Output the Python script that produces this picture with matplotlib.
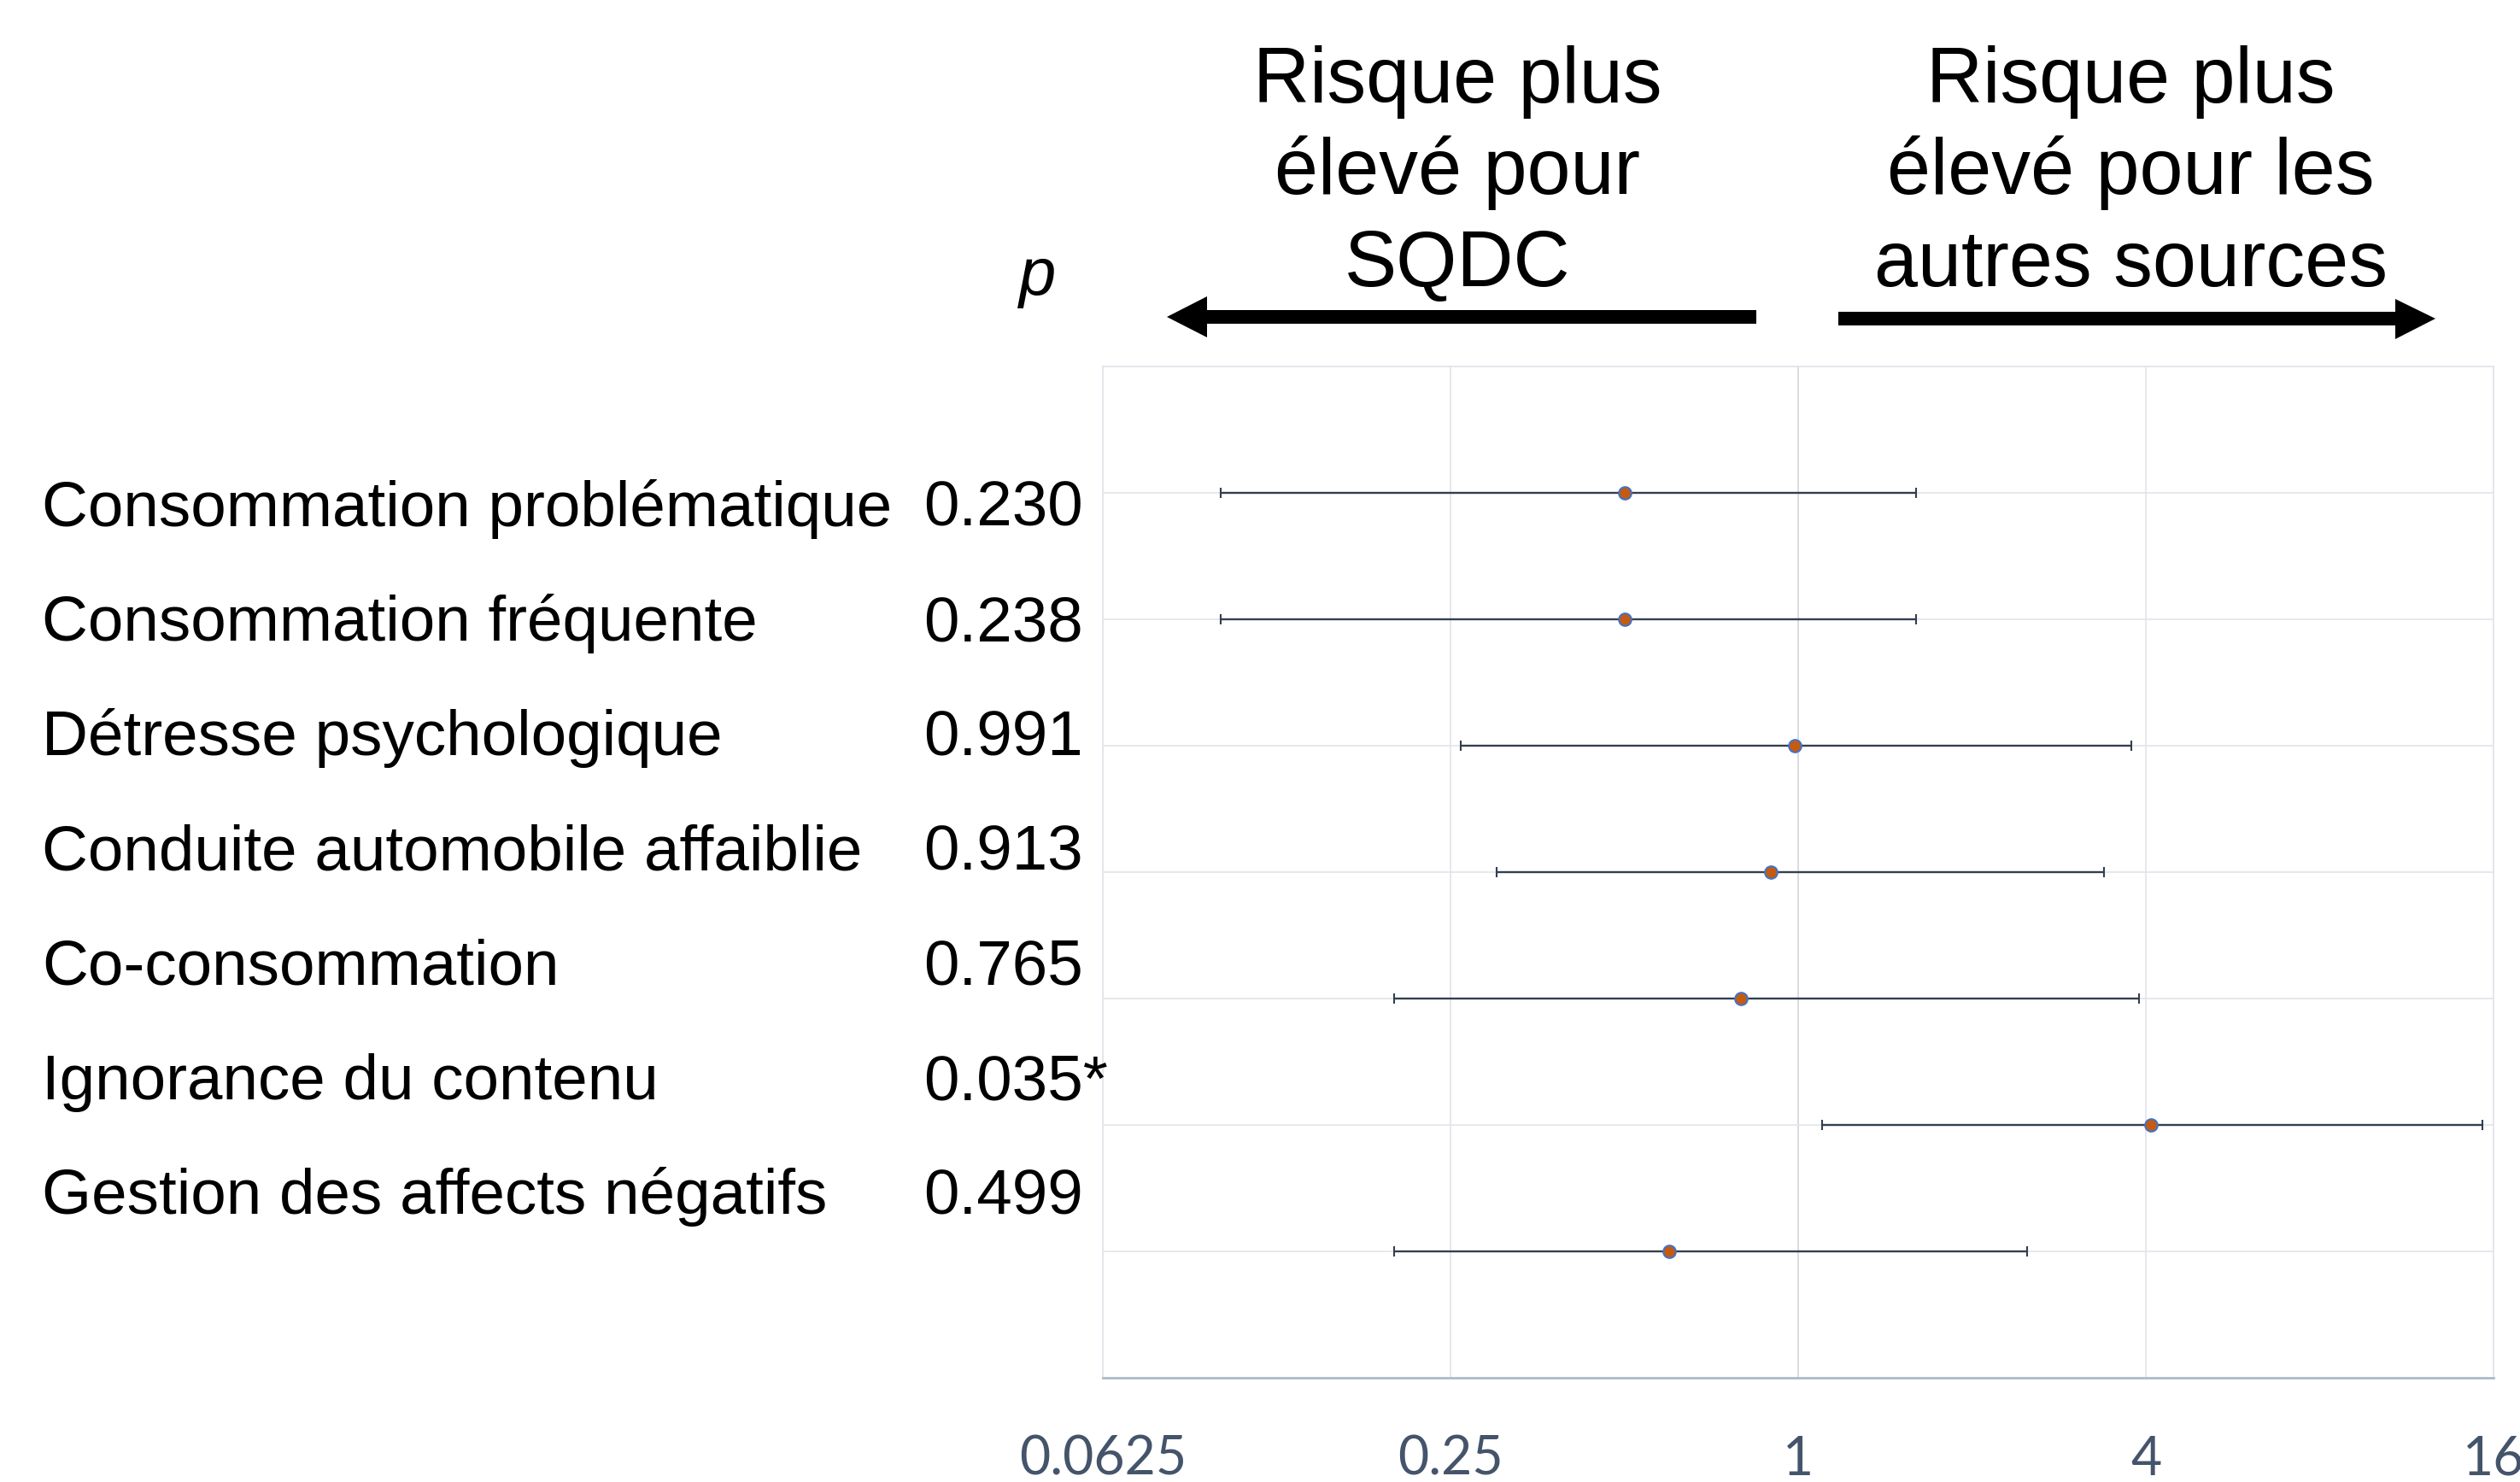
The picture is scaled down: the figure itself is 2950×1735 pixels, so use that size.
import matplotlib
matplotlib.use("Agg")
import matplotlib.pyplot as plt
from matplotlib.patches import Polygon

W, H = 2950, 1735

# data
outcomes = ["Consommation problématique", "Consommation fréquente",
            "Détresse psychologique", "Conduite automobile affaiblie",
            "Co-consommation", "Ignorance du contenu",
            "Gestion des affects négatifs"]
p_values = ["0.230", "0.238", "0.991", "0.913", "0.765", "0.035*", "0.499"]
odds = [0.50, 0.50, 0.985, 0.897, 0.796, 4.08, 0.597]
ci_low = [0.100, 0.100, 0.26, 0.30, 0.20, 1.10, 0.20]
ci_high = [1.60, 1.60, 3.78, 3.39, 3.89, 15.3, 2.49]
xticks = [0.0625, 0.25, 1, 4, 16]
xtick_labels = ["0.0625", "0.25", "1", "4", "16"]

ARIAL = ["Liberation Sans", "DejaVu Sans"]


def fx(px):
    return px / W


def fy(py):
    return 1 - py / H


fig = plt.figure(figsize=(W / 100, H / 100), dpi=100)
ax = fig.add_axes([fx(1291), fy(1613), fx(2919) - fx(1291), fy(429) - fy(1613)])

ax.set_xscale("log", base=2)
ax.set_xlim(0.0625, 16)
ax.set_ylim(0, 8)

rows = list(range(len(outcomes), 0, -1))
err = [[o - l for o, l in zip(odds, ci_low)], [h - o for o, h in zip(odds, ci_high)]]
ax.errorbar(odds, rows, xerr=err, fmt="o", color="#333F50", ecolor="#333F50",
            elinewidth=1.7, capsize=4.3, capthick=1.5,
            markerfacecolor="#C55A11", markeredgecolor="#4472C4",
            markersize=10.5, markeredgewidth=1.5, zorder=3)

ax.set_xticks(xticks)
ax.set_xticklabels(xtick_labels)
ax.xaxis.set_minor_locator(matplotlib.ticker.NullLocator())
ax.set_yticks(range(0, 9))
ax.set_yticklabels([])
ax.tick_params(axis="both", length=0)
ax.tick_params(axis="x", pad=48, labelsize=45, labelcolor="#44546A")
for lab in ax.get_xticklabels():
    lab.set_family(["Lato", "DejaVu Sans"])

ax.grid(True, color="#E1E4EA", linewidth=1.2, zorder=0)
ax.axvline(1, color="#A9B4C6", linewidth=1.3, zorder=1)
for side in ["top", "left", "right"]:
    ax.spines[side].set_color("#E1E4EA")
    ax.spines[side].set_linewidth(1.2)
ax.spines["bottom"].set_color("#AFBACB")
ax.spines["bottom"].set_linewidth(2)

# row labels and p values (own spacing, not aligned to the rows)
for i, (name, p) in enumerate(zip(outcomes, p_values)):
    base = 616 + i * 134.2
    fig.text(fx(49), fy(base), name, fontsize=53.7, family=ARIAL, va="baseline", ha="left")
    fig.text(fx(1081), fy(base), p, fontsize=53.7, family=ARIAL, va="baseline", ha="left")

fig.text(fx(1215), fy(345), "p", fontsize=56, family=ARIAL, style="italic",
         va="baseline", ha="center")

left_title = ["Risque plus", "élevé pour", "SQDC"]
right_title = ["Risque plus", "élevé pour les", "autres sources"]
for j, (a, b) in enumerate(zip(left_title, right_title)):
    base = 120 + j * 107.5
    fig.text(fx(1706), fy(base), a, fontsize=66, family=ARIAL, va="baseline", ha="center")
    fig.text(fx(2494), fy(base), b, fontsize=66, family=ARIAL, va="baseline", ha="center")

# direction arrows
left_arrow = [(2056, 363), (1413, 363), (1413, 347), (1366, 371),
              (1413, 395), (1413, 379), (2056, 379)]
right_arrow = [(2152, 365), (2804, 365), (2804, 350), (2851, 373),
               (2804, 397), (2804, 381), (2152, 381)]
for pts in (left_arrow, right_arrow):
    fig.add_artist(Polygon([(fx(x), fy(y)) for x, y in pts], closed=True,
                           transform=fig.transFigure, facecolor="black",
                           edgecolor="none"))

fig.savefig("out.png", dpi=100, facecolor="white")
